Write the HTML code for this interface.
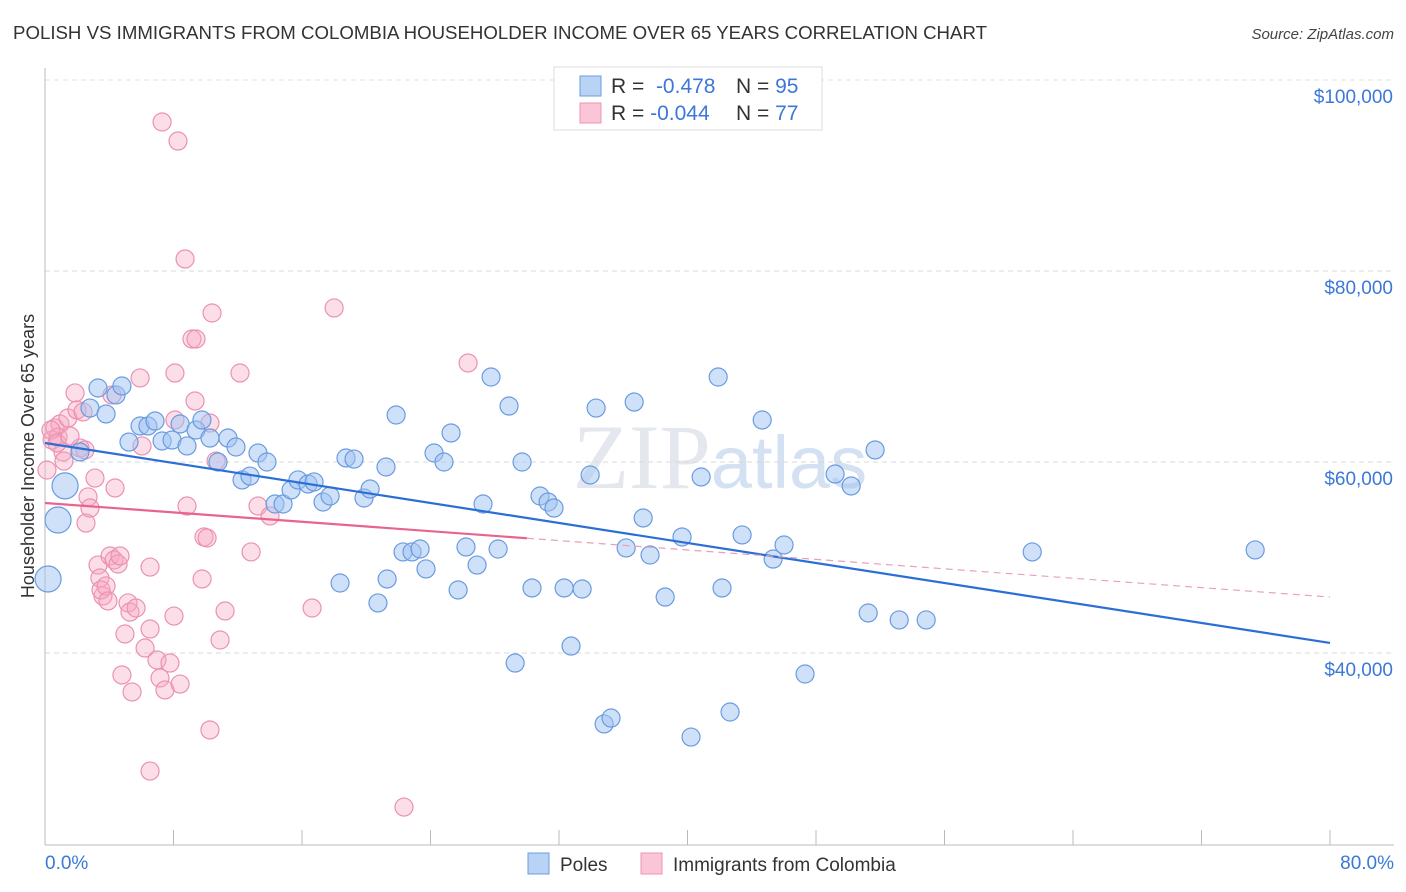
<!DOCTYPE html>
<html><head><meta charset="utf-8"><style>
body{margin:0;background:#fff;font-family:"Liberation Sans",sans-serif;}
svg{display:block}
</style></head><body>
<svg id="chart" width="1406" height="892" xmlns="http://www.w3.org/2000/svg" font-family="Liberation Sans, sans-serif">
<text x="13" y="39" font-size="18.5" fill="#333" textLength="974" lengthAdjust="spacingAndGlyphs">POLISH VS IMMIGRANTS FROM COLOMBIA HOUSEHOLDER INCOME OVER 65 YEARS CORRELATION CHART</text>
<text x="1394" y="39" font-size="15" fill="#444" text-anchor="end" font-style="italic">Source: ZipAtlas.com</text>
<text x="720" y="488" font-size="92" fill="#e4e8ee" text-anchor="middle" font-family="Liberation Serif, serif">ZIP<tspan fill="#d3e1f3" font-family="Liberation Sans, sans-serif" font-size="74">atlas</tspan></text>
<text transform="translate(34,456) rotate(-90)" font-size="18" fill="#333" text-anchor="middle">Householder Income Over 65 years</text>
<g id="grid"></g><g id="axes"></g><g id="pink"></g><g id="blue"></g><g id="trends"></g>
<g>
<rect x="554" y="67" width="268" height="63" fill="#fff" stroke="#ddd"/>
<rect x="580" y="76" width="21" height="20" fill="#b9d3f5" stroke="#6a9be0"/>
<rect x="580" y="103" width="21" height="20" fill="#fac5d6" stroke="#ec95b2"/>
<text x="611" y="93" font-size="21" fill="#333">R = <tspan fill="#3b78d8">&#160;-0.478</tspan><tspan x="736">N = </tspan><tspan fill="#3b78d8">95</tspan></text>
<text x="611" y="120" font-size="21" fill="#333">R = <tspan fill="#3b78d8">-0.044</tspan><tspan x="736">N = </tspan><tspan fill="#3b78d8">77</tspan></text>
</g>
<g>
<rect x="528" y="853" width="21" height="21" fill="#b9d3f5" stroke="#6a9be0"/>
<text x="560" y="871" font-size="19" fill="#333">Poles</text>
<rect x="641" y="853" width="21" height="21" fill="#fac5d6" stroke="#ec95b2"/>
<text x="673" y="871" font-size="19" fill="#333">Immigrants from Colombia</text>
</g>
</svg>
<script>
const yTicks=[40000,60000,80000,100000];
const yTickLabels=["$40,000","$60,000","$80,000","$100,000"];
const xTicks=[0,8,16,24,32,40,48,56,64,72,80];
const xEndLabels=["0.0%","80.0%"];
const blueX=[0.19,0.81,1.25,2.18,2.8,3.3,3.8,4.42,4.79,5.23,5.92,6.41,6.85,7.29,7.91,8.41,8.84,9.4,9.77,10.27,10.77,11.39,11.89,12.27,12.76,13.26,13.82,14.32,14.82,15.32,15.75,16.38,16.75,17.31,17.75,18.37,18.74,19.24,19.86,20.24,20.73,21.23,21.3,21.86,22.29,22.85,23.35,23.72,24.22,24.84,25.28,25.72,26.21,26.9,27.27,27.77,28.21,28.89,29.27,29.7,30.32,30.82,31.32,31.69,32.32,32.75,33.44,33.94,34.31,34.81,35.24,36.18,36.68,37.24,37.67,38.61,39.66,40.22,40.85,41.91,42.15,42.65,43.4,44.65,45.33,46.01,47.32,49.19,50.19,51.25,51.68,53.18,54.86,61.46,75.34];
const blueY=[47.75,53.93,57.5,61.05,65.65,67.75,65.03,67.02,67.96,62.09,63.77,63.77,64.29,62.2,62.3,63.98,61.68,63.35,64.4,62.51,60,62.51,61.57,58.12,58.53,60.94,60,55.6,55.6,57.07,58.12,57.7,57.91,55.81,56.44,47.33,60.42,60.31,56.23,57.17,45.24,59.48,47.75,64.92,50.58,50.58,50.89,48.8,60.94,60,63.04,46.6,51.1,49.21,55.6,68.9,50.89,65.86,38.95,60,46.81,56.44,55.81,55.18,46.81,40.73,46.7,58.64,65.65,32.57,33.19,51,66.28,54.14,50.26,45.86,52.15,31.2,58.43,68.9,46.81,33.82,52.36,64.4,49.84,51.31,37.8,58.74,57.49,44.19,61.26,43.46,43.46,50.58,50.79];
const blueBig=[0,1,2];
const pinkX=[0.12,0.44,0.62,0.93,0.81,1.43,1.12,1.87,1.99,2.18,2.49,2.68,2.55,2.8,3.11,3.3,3.42,3.61,3.49,3.8,3.92,4.05,4.17,4.36,4.3,4.55,4.67,4.98,4.79,5.17,5.42,5.29,5.67,5.92,6.04,6.23,6.54,6.54,6.54,6.97,7.16,7.47,7.78,7.29,8.28,8.03,8.09,8.41,8.72,8.84,9.15,9.4,9.34,9.78,9.9,10.09,10.27,10.4,10.65,10.9,11.21,12.14,12.83,13.26,14.01,16.63,18.0,22.35,26.34,10.27,0.37,0.75,1.18,1.56,2.37,8.09];
const pinkY=[59.16,62.3,63.56,63.98,62.62,64.61,61.05,67.23,65.45,61.47,61.26,56.34,53.61,55.18,58.32,49.21,47.85,45.97,46.6,47.02,45.45,50.16,67.02,57.28,49.74,49.32,50.16,41.99,37.7,45.24,35.92,44.29,44.71,68.8,61.68,40.52,42.51,27.64,49.0,39.27,37.38,36.13,38.95,95.6,93.61,43.87,69.32,36.75,81.26,55.39,72.88,72.88,66.39,47.75,52.15,52.04,64.08,75.6,60.1,41.36,44.4,69.32,50.58,55.39,54.35,44.71,76.13,23.87,70.37,31.94,63.35,61.99,60.1,62.72,65.24,64.4];
const blueTrend=[61.99,41.05];
const pinkTrend=[55.71,45.86];
const pinkSolidEnd=30.0;

const NS="http://www.w3.org/2000/svg";
const xs=v=>45+v*1285/80;
const ys=k=>462-(k-60)*191/20;
function mk(tag,attrs,parent){const e=document.createElementNS(NS,tag);for(const k in attrs)e.setAttribute(k,attrs[k]);parent.appendChild(e);return e;}
const gridG=document.getElementById('grid'),axesG=document.getElementById('axes');
yTicks.forEach((t,i)=>{
  const y=ys(t/1000);
  const l=mk('line',{x1:45,x2:1394,y1:y,y2:y,stroke:'#d8d8d8','stroke-dasharray':'5,4'},gridG);
  
  
  const tx=mk('text',{x:1393,y:y+23,'font-size':19,fill:'#3b78d8','text-anchor':'end'},gridG);
  
  
  tx.textContent=yTickLabels[i];
});
const topGrid=mk('line',{x1:45,x2:1394,y1:80,y2:80,stroke:'#e2e2e2','stroke-dasharray':'5,4'},gridG);
mk('line',{x1:45,x2:45,y1:68,y2:845,stroke:'#bbb'},axesG);
const xa=mk('line',{x1:45,x2:1394,y1:845,y2:845,stroke:'#bbb'},axesG);


xTicks.forEach(t=>{mk('line',{x1:xs(t),x2:xs(t),y1:830,y2:845,stroke:'#bbb'},axesG);});
const l0=mk('text',{x:45,y:869,'font-size':19,fill:'#3b78d8'},axesG);


l0.textContent=xEndLabels[0];
const l1=mk('text',{x:1394,y:869,'font-size':19,fill:'#3b78d8','text-anchor':'end'},axesG);


l1.textContent=xEndLabels[1];
const pg=document.getElementById('pink'),bg=document.getElementById('blue');
pinkX.forEach((x,i)=>{
  const c=mk('circle',{cx:xs(x),cy:ys(pinkY[i]),r:9,fill:'rgba(246,168,194,0.38)',stroke:'#eb92b0','stroke-width':1.2},pg);
  
  
});
blueX.forEach((x,i)=>{
  const c=mk('circle',{cx:xs(x),cy:ys(blueY[i]),r:blueBig.includes(i)?13:9,fill:'rgba(160,196,242,0.5)',stroke:'#6a9be0','stroke-width':1.2},bg);
  
  
});
const tg=document.getElementById('trends');
const pAt=x=>pinkTrend[0]+(pinkTrend[1]-pinkTrend[0])*x/80;
const bt=mk('line',{x1:xs(0),y1:ys(blueTrend[0]),x2:xs(80),y2:ys(blueTrend[1]),stroke:'#2b6fd6','stroke-width':2.2},tg);


const ps=mk('line',{x1:xs(0),y1:ys(pAt(0)),x2:xs(pinkSolidEnd),y2:ys(pAt(pinkSolidEnd)),stroke:'#e8648f','stroke-width':2.2},tg);


const pd=mk('line',{x1:xs(pinkSolidEnd),y1:ys(pAt(pinkSolidEnd)),x2:xs(80),y2:ys(pAt(80)),stroke:'#e8a0b8','stroke-width':1.2,'stroke-dasharray':'7,5'},tg);


</script>
</body></html>
